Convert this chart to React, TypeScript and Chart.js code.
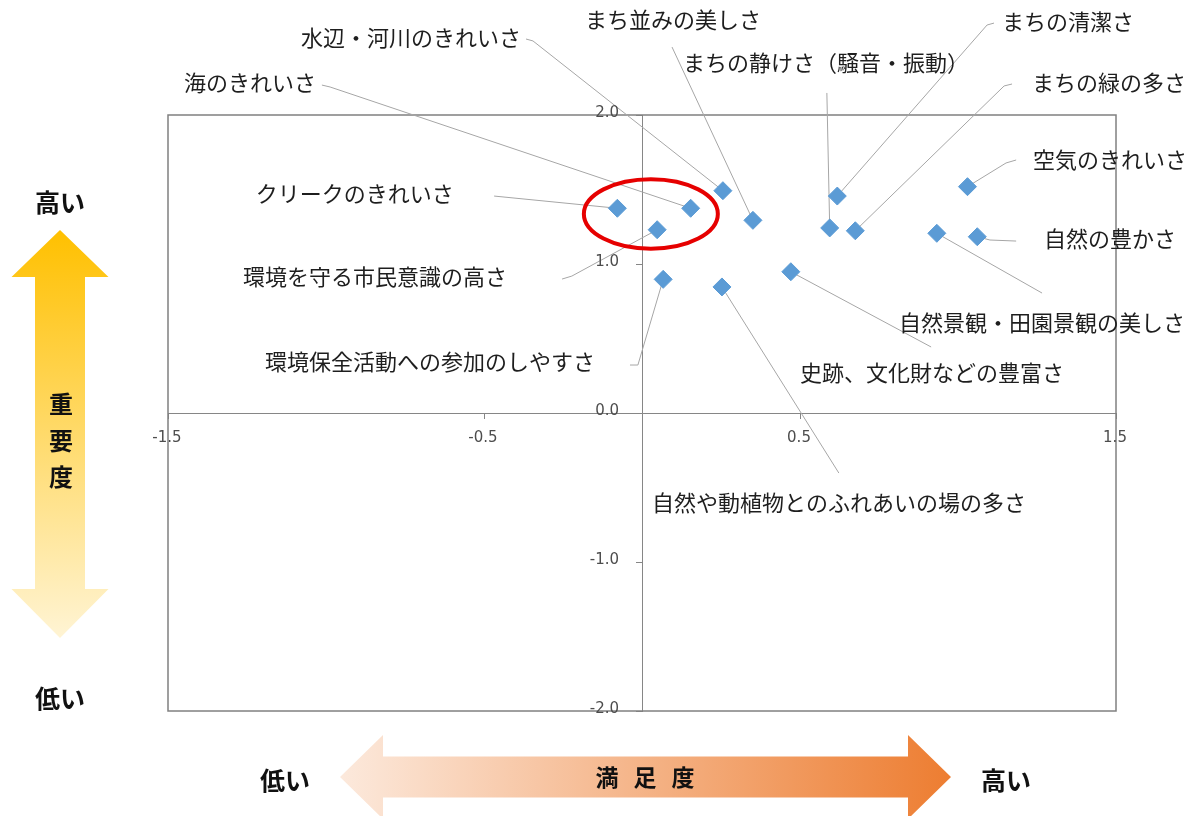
import React, { useEffect, useRef } from 'react';
import { Chart, registerables } from 'chart.js';

Chart.register(...registerables);

// ---- data ----
const items: string[] = [
  'クリークのきれいさ',
  '海のきれいさ',
  '環境を守る市民意識の高さ',
  '水辺・河川のきれいさ',
  'まち並みの美しさ',
  'まちの清潔さ',
  'まちの静けさ（騒音・振動）',
  'まちの緑の多さ',
  '自然景観・田園景観の美しさ',
  '空気のきれいさ',
  '自然の豊かさ',
  '環境保全活動への参加のしやすさ',
  '自然や動植物とのふれあいの場の多さ',
  '史跡、文化財などの豊富さ',
];
// 満足度 (x)
const satisfaction: number[] = [-0.078, 0.154, 0.048, 0.256, 0.351, 0.618, 0.594, 0.675, 0.933, 1.03, 1.061, 0.067, 0.253, 0.471];
// 重要度 (y)
const importance: number[] = [1.374, 1.374, 1.23, 1.492, 1.293, 1.456, 1.242, 1.223, 1.206, 1.519, 1.183, 0.897, 0.846, 0.948];

const xTicks: number[] = [-1.5, -0.5, 0.5, 1.5];
const yTicks: number[] = [-2, -1, 0, 1, 2];

// ---- label layout (data units: text left x, centre y, leader bends from text toward point) ----
const labelTextX: number[] = [-1.222, -1.449, -1.263, -1.079, -0.18, 1.139, 0.13, 1.234, 0.813, 1.237, 1.272, -1.193, 0.032, 0.5];
const labelTextY: number[] = [1.47, 2.215, 0.913, 2.517, 2.638, 2.624, 2.349, 2.215, 0.604, 1.698, 1.168, 0.342, -0.604, 0.268];
const labelLeaders: number[][][] = [
  [[-0.468, 1.456]],
  [[-1.013, 2.201], [-0.987, 2.188]],
  [[-0.253, 0.899], [-0.222, 0.919]],
  [[-0.367, 2.51], [-0.345, 2.497]],
  [[0.095, 2.456]],
  [[1.114, 2.617], [1.092, 2.604]],
  [[0.585, 2.148]],
  [[1.171, 2.208], [1.146, 2.195]],
  [[1.266, 0.805]],
  [[1.184, 1.698], [1.152, 1.678]],
  [[1.184, 1.154], [1.101, 1.161]],
  [[-0.038, 0.322], [-0.013, 0.322]],
  [[0.623, -0.403]],
  [[0.915, 0.443]],
];
// highlight ellipse (data units)
const highlight = { cx: 0.028, cy: 1.336, rx: 0.212, ry: 0.233 };

const JP = '"Noto Sans CJK JP", "Noto Sans", sans-serif';
const TICK_FONT = '15px "DejaVu Sans", Verdana, sans-serif';

const decorPlugin = {
  id: 'decor',
  beforeDatasetsDraw(chart: any) {
    const { ctx, chartArea, scales } = chart;
    const xs = scales.x, ys = scales.y;
    ctx.save();
    // plot border
    ctx.strokeStyle = '#808080';
    ctx.lineWidth = 1.5;
    ctx.strokeRect(chartArea.left, chartArea.top, chartArea.right - chartArea.left, chartArea.bottom - chartArea.top);
    // leader lines
    ctx.strokeStyle = '#a6a6a6';
    ctx.lineWidth = 1;
    items.forEach((_, i) => {
      const pts = labelLeaders[i];
      ctx.beginPath();
      ctx.moveTo(xs.getPixelForValue(pts[0][0]), ys.getPixelForValue(pts[0][1]));
      for (let k = 1; k < pts.length; k++) ctx.lineTo(xs.getPixelForValue(pts[k][0]), ys.getPixelForValue(pts[k][1]));
      ctx.lineTo(xs.getPixelForValue(satisfaction[i]), ys.getPixelForValue(importance[i]));
      ctx.stroke();
    });
    ctx.restore();
  },
  afterDatasetsDraw(chart: any) {
    const { ctx, scales } = chart;
    const xs = scales.x, ys = scales.y;
    ctx.save();
    // tick labels (Excel style, next to the crossing axes)
    ctx.fillStyle = '#4d4d4d';
    ctx.font = TICK_FONT;
    ctx.textBaseline = 'middle';
    const x0 = xs.getPixelForValue(0);
    const y0 = ys.getPixelForValue(0);
    ctx.textAlign = 'right';
    yTicks.forEach((v) => ctx.fillText(v.toFixed(1), x0 - 23, ys.getPixelForValue(v) - 1.5));
    ctx.textAlign = 'center';
    xTicks.forEach((v) => ctx.fillText(v.toFixed(1), xs.getPixelForValue(v) - 1, y0 + 25));

    // labels
    ctx.fillStyle = '#1e1e1e';
    ctx.font = `22px ${JP}`;
    ctx.textBaseline = 'middle';
    ctx.textAlign = 'left';
    items.forEach((t, i) => {
      ctx.fillText(t, xs.getPixelForValue(labelTextX[i]), ys.getPixelForValue(labelTextY[i]));
    });
    // red ellipse
    const cx = xs.getPixelForValue(highlight.cx);
    const cy = ys.getPixelForValue(highlight.cy);
    const rx = Math.abs(xs.getPixelForValue(highlight.cx + highlight.rx) - cx);
    const ry = Math.abs(ys.getPixelForValue(highlight.cy + highlight.ry) - cy);
    ctx.beginPath();
    ctx.ellipse(cx, cy, rx, ry, 0, 0, Math.PI * 2);
    ctx.strokeStyle = '#e60000';
    ctx.lineWidth = 4;
    ctx.stroke();

    // vertical arrow (重要度)
    {
      const ax = 60, top = 230, hb = 277, bb = 589, bottom = 638, hw = 48.5, sw = 25;
      const g = ctx.createLinearGradient(0, top, 0, bottom);
      g.addColorStop(0, '#ffc000');
      g.addColorStop(1, '#fff4d4');
      ctx.beginPath();
      ctx.moveTo(ax, top);
      ctx.lineTo(ax + hw, hb);
      ctx.lineTo(ax + sw, hb);
      ctx.lineTo(ax + sw, bb);
      ctx.lineTo(ax + hw, bb);
      ctx.lineTo(ax, bottom);
      ctx.lineTo(ax - hw, bb);
      ctx.lineTo(ax - sw, bb);
      ctx.lineTo(ax - sw, hb);
      ctx.lineTo(ax - hw, hb);
      ctx.closePath();
      ctx.fillStyle = g;
      ctx.fill();
    }
    // horizontal arrow (満足度)
    {
      const ay = 777, left = 340, lb = 383, rb = 908, right = 951, hh = 42, sh = 20.5;
      const g = ctx.createLinearGradient(left, 0, right, 0);
      g.addColorStop(0, '#fce9dc');
      g.addColorStop(1, '#ed7d31');
      ctx.beginPath();
      ctx.moveTo(left, ay);
      ctx.lineTo(lb, ay - hh);
      ctx.lineTo(lb, ay - sh);
      ctx.lineTo(rb, ay - sh);
      ctx.lineTo(rb, ay - hh);
      ctx.lineTo(right, ay);
      ctx.lineTo(rb, ay + hh);
      ctx.lineTo(rb, ay + sh);
      ctx.lineTo(lb, ay + sh);
      ctx.lineTo(lb, ay + hh);
      ctx.closePath();
      ctx.fillStyle = g;
      ctx.fill();
    }
    // axis captions
    ctx.fillStyle = '#111111';
    ctx.textAlign = 'center';
    ctx.font = `bold 25px ${JP}`;
    ctx.fillText('高い', 60, 202);
    ctx.fillText('低い', 60, 698);
    ctx.fillText('低い', 285, 780);
    ctx.fillText('高い', 1006, 780);
    ctx.font = `bold 24px ${JP}`;
    ['重', '要', '度'].forEach((c, k) => ctx.fillText(c, 61, 404 + k * 36.5));
    ctx.font = `bold 23px ${JP}`;
    ['満', '足', '度'].forEach((c, k) => ctx.fillText(c, 607 + k * 38, 777));
    ctx.restore();
  },
};

export default function App() {
  const ref = useRef<HTMLCanvasElement | null>(null);
  useEffect(() => {
    document.body.style.margin = '0';
    const canvas = ref.current!;
    const chart = new Chart(canvas, {
      type: 'scatter',
      data: {
        datasets: [
          {
            data: satisfaction.map((x, i) => ({ x, y: importance[i] })),
            pointStyle: 'rectRot',
            pointRadius: 9,
            pointHoverRadius: 9,
            backgroundColor: '#5b9bd5',
            borderColor: '#5b9bd5',
            borderWidth: 1,
          },
        ],
      },
      options: {
        responsive: false,
        animation: false,
        devicePixelRatio: 1,
        layout: { padding: { left: 168, right: 73, top: 115, bottom: 105 } },
        plugins: { legend: { display: false }, tooltip: { enabled: false } },
        scales: {
          x: {
            type: 'linear',
            min: -1.5,
            max: 1.5,
            position: { y: 0 } as any,
            afterBuildTicks: (s: any) => {
              s.ticks = xTicks.map((v) => ({ value: v }));
            },
            ticks: { display: false },
            grid: { display: true, drawOnChartArea: false, drawTicks: true, tickLength: 5, color: '#868686' },
            border: { display: true, color: '#868686', width: 1 },
          },
          y: {
            type: 'linear',
            min: -2,
            max: 2,
            position: { x: 0 } as any,
            afterBuildTicks: (s: any) => {
              s.ticks = yTicks.map((v) => ({ value: v }));
            },
            ticks: { display: false },
            grid: { display: true, drawOnChartArea: false, drawTicks: true, tickLength: 6, color: '#868686' },
            border: { display: true, color: '#868686', width: 1 },
          },
        },
      },
      plugins: [decorPlugin],
    });
    return () => chart.destroy();
  }, []);
  return <canvas ref={ref} width={1189} height={816} style={{ display: 'block' }} />;
}
